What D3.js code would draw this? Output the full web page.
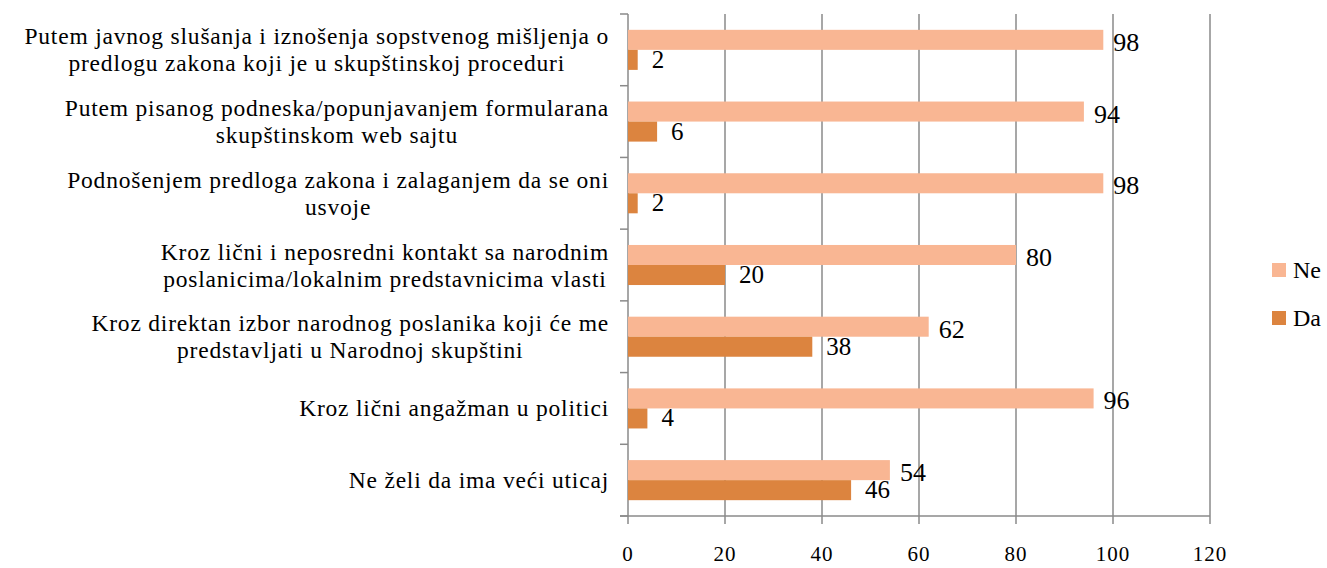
<!DOCTYPE html>
<html><head><meta charset="utf-8">
<script src="https://cdn.jsdelivr.net/npm/d3@7"></script>
<style>body{margin:0;background:#fff}svg{display:block}</style>
</head><body>
<svg id="c" width="1327" height="568"></svg>
<script>
const categories = [
  ["Putem javnog slušanja i iznošenja sopstvenog mišljenja o","predlogu zakona koji je u skupštinskoj proceduri"],
  ["Putem pisanog podneska/popunjavanjem formularana","skupštinskom web sajtu"],
  ["Podnošenjem predloga zakona i zalaganjem da se oni","usvoje"],
  ["Kroz lični i neposredni kontakt sa narodnim","poslanicima/lokalnim predstavnicima vlasti"],
  ["Kroz direktan izbor narodnog poslanika koji će me","predstavljati u Narodnoj skupštini"],
  ["Kroz lični angažman u politici "],
  ["Ne želi da ima veći uticaj"]
];
const seriesNames = ["Ne","Da"];
const neValues = [98,94,98,80,62,96,54];
const daValues = [2,6,2,20,38,4,46];
const xTicks = [0,20,40,60,80,100,120];
const colors = {Ne:"#F9B693", Da:"#DC843F"};

const svg = d3.select("#c");
const font = "'Liberation Serif', serif";
const x = d3.scaleLinear().domain([0,120]).range([628,1210]);
const y = d3.scaleBand().domain(d3.range(categories.length)).range([14,516]).paddingInner(0).paddingOuter(0);
const ys = d3.scaleBand().domain(seriesNames).range([0,y.bandwidth()]).paddingInner(0).paddingOuter(0.79);

// gridlines
svg.append("g").selectAll("line").data(xTicks.slice(1)).join("line")
  .attr("x1",d=>x(d)).attr("x2",d=>x(d)).attr("y1",14).attr("y2",524)
  .attr("stroke","#8a8a8a").attr("stroke-width",1.5);
// left axis
svg.append("line").attr("x1",x(0)).attr("x2",x(0)).attr("y1",14).attr("y2",524).attr("stroke","#8a8a8a").attr("stroke-width",1.5);
svg.append("g").selectAll("line").data(d3.range(categories.length+1)).join("line")
  .attr("x1",620).attr("x2",x(0)).attr("y1",d=>14+d*y.step()).attr("y2",d=>14+d*y.step())
  .attr("stroke","#8a8a8a").attr("stroke-width",1.5);
// bottom axis
svg.append("line").attr("x1",620).attr("x2",x(120)).attr("y1",516).attr("y2",516).attr("stroke","#8a8a8a").attr("stroke-width",1.5);
svg.append("g").selectAll("text").data(xTicks).join("text")
  .attr("x",d=>x(d)).attr("y",561).attr("text-anchor","middle")
  .style("font-family",font).style("font-size","21px").style("letter-spacing","1px").attr("fill","#000").text(d=>d);

const rows = categories.map((c,i)=>({i, Ne:neValues[i], Da:daValues[i]}));
const g = svg.append("g");
seriesNames.forEach(s=>{
  g.selectAll("rect."+s).data(rows).join("rect").attr("class",s)
    .attr("x",x(0)).attr("y",d=>y(d.i)+ys(s)).attr("width",d=>x(d[s])-x(0)).attr("height",ys.bandwidth())
    .attr("fill",colors[s]);
});
// value labels
g.selectAll("text.ne").data(rows).join("text").attr("class","ne")
  .attr("x",d=>x(d.Ne)+10).attr("y",d=>y(d.i)+ys("Ne")+ys.bandwidth()+1)
  .style("font-family",font).style("font-size","26px").text(d=>d.Ne);
g.selectAll("text.da").data(rows).join("text").attr("class","da")
  .attr("x",d=>x(d.Da)+14).attr("y",d=>y(d.i)+ys("Da")+ys.bandwidth()-2)
  .style("font-family",font).style("font-size","25px").text(d=>d.Da);

// category labels
const lh = 27;
categories.forEach((lines,i)=>{
  const t = svg.append("text").style("font-family",font).style("font-size","23.5px")
    .style("letter-spacing","0.8px").attr("text-anchor","middle");
  const cy = y(i)+y.bandwidth()/2;
  const n = lines.length;
  lines.forEach((l,k)=>{
    t.append("tspan").attr("x",0).attr("y",cy+(k-(n-1)/2)*lh+8).text(l);
  });
  let maxW = 0;
  t.selectAll("tspan").each(function(){maxW=Math.max(maxW,this.getComputedTextLength());});
  t.selectAll("tspan").attr("x",609-maxW/2);
});

// legend
const lg = svg.append("g");
seriesNames.forEach((s,k)=>{
  lg.append("rect").attr("x",1272).attr("y",263+k*48).attr("width",14).attr("height",14).attr("fill",colors[s]);
  lg.append("text").attr("x",1293).attr("y",278+k*48).style("font-family",font).style("font-size","24px").text(s);
});
</script>
</body></html>
